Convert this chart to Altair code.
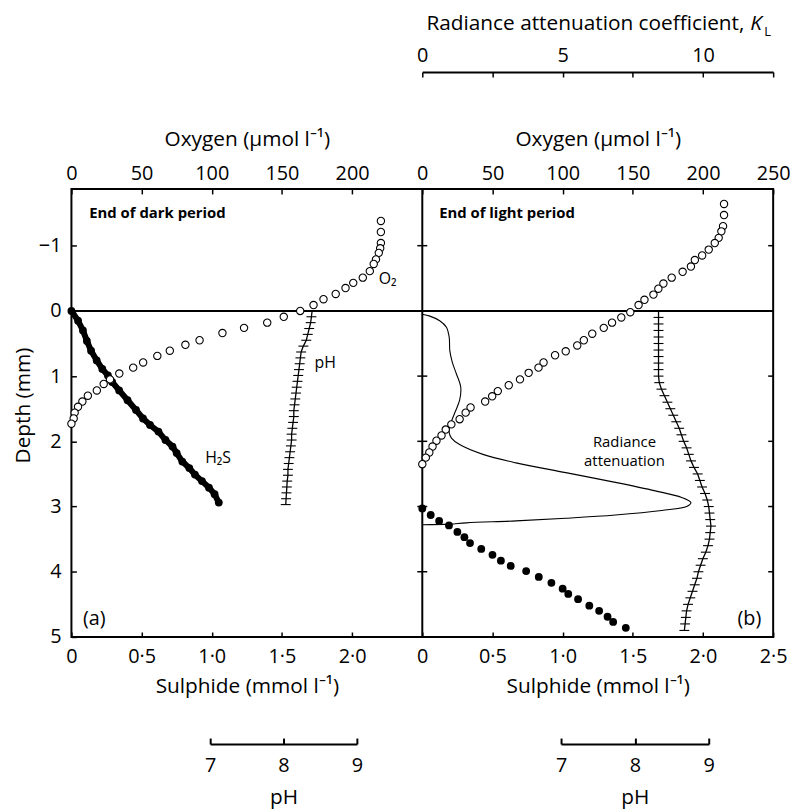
import altair as alt
import pandas as pd

# ---------------- axis ticks / labels ----------------
DEPTH_TICKS = [-1, 0, 1, 2, 3, 4, 5]
OXY_TICKS_A = [0, 50, 100, 150, 200]
OXY_TICKS_B = [0, 50, 100, 150, 200, 250]
SUL_TICKS_A = [0, 0.5, 1.0, 1.5, 2.0]
SUL_TICKS_B = [0, 0.5, 1.0, 1.5, 2.0, 2.5]
PH_TICKS = [7, 8, 9]
K_TICKS = [0, 2.5, 5, 7.5, 10, 12.5]

OXY_TITLE = "Oxygen (\u03bcmol l\u207b\u00b9)"
SUL_TITLE = "Sulphide (mmol l\u207b\u00b9)"
PH_TITLE = "pH"
DEPTH_TITLE = "Depth (mm)"
K_TITLE = ["Radiance attenuation coefficient,", "K", "L"]
NOTES = ["End of dark period", "End of light period", "O\u2082", "pH", "H\u2082S",
         "Radiance", "attenuation", "(a)", "(b)"]

# ---------------- panel (a): end of dark period ----------------
o2a_conc = [220.5, 220.5, 220.5, 220, 219, 217, 215.4, 212.6, 207.6, 200.8, 195.3, 188.3,
            179.6, 172.5, 163, 151.3, 139.5, 123, 107.6, 91.3, 81.2, 70.1, 61.2, 51.1,
            44, 34.1, 27.5, 23, 18.1, 11.7, 7.8, 4.7, 2.3, 1.6, 0]
o2a_depth = [-1.38, -1.21, -1.04, -0.96, -0.89, -0.79, -0.72, -0.61, -0.51, -0.43, -0.35,
             -0.26, -0.18, -0.09, 0.0, 0.09, 0.18, 0.26, 0.34, 0.45, 0.52, 0.61, 0.69,
             0.79, 0.87, 0.96, 1.05, 1.12, 1.22, 1.30, 1.39, 1.47, 1.56, 1.65, 1.73]

h2sa_conc = [0, 0.047, 0.082, 0.11, 0.14, 0.18, 0.22, 0.26, 0.29, 0.34, 0.40, 0.46, 0.51,
             0.56, 0.62, 0.67, 0.72, 0.75, 0.79, 0.84, 0.88, 0.93, 0.98, 1.02, 1.05]
h2sa_depth = [0, 0.15, 0.30, 0.46, 0.61, 0.76, 0.89, 0.99, 1.09, 1.22, 1.37, 1.52, 1.65,
              1.75, 1.85, 1.98, 2.08, 2.18, 2.31, 2.41, 2.51, 2.61, 2.71, 2.81, 2.94]

pha_depth = [0.00, 0.09, 0.18, 0.27, 0.36, 0.45, 0.54, 0.63, 0.72, 0.81, 0.90, 0.99, 1.08,
             1.17, 1.26, 1.35, 1.44, 1.53, 1.62, 1.71, 1.80, 1.89, 1.98, 2.07, 2.16, 2.25,
             2.34, 2.43, 2.52, 2.61, 2.70, 2.79, 2.88, 2.97]
pha_ph = [8.39, 8.38, 8.37, 8.35, 8.33, 8.31, 8.27, 8.24, 8.23, 8.22, 8.21, 8.20, 8.19,
          8.18, 8.17, 8.16, 8.15, 8.14, 8.14, 8.13, 8.12, 8.11, 8.11, 8.10, 8.09, 8.08,
          8.07, 8.06, 8.06, 8.05, 8.045, 8.04, 8.035, 8.03]

# ---------------- panel (b): end of light period ----------------
o2b_conc = [215, 215, 214.3, 213.1, 211.2, 208.4, 204.1, 199.4, 194.2, 191.4, 185.5, 177.7,
            171.8, 168.2, 164.7, 158.3, 154.1, 148.2, 141.8, 135.2, 129.3, 121.1, 115.1,
            110.4, 102.2, 94.6, 86.4, 82.8, 75.8, 69.6, 61.6, 53.8, 49.8, 44.8, 34.4, 30.9,
            26.6, 20.7, 16.7, 13.7, 10.1, 7.3, 5.0, 2.5, 0]
o2b_depth = [-1.64, -1.47, -1.30, -1.22, -1.12, -1.04, -0.94, -0.85, -0.78, -0.68, -0.60,
             -0.51, -0.42, -0.34, -0.25, -0.17, -0.09, 0.02, 0.10, 0.18, 0.26, 0.35, 0.45,
             0.53, 0.62, 0.68, 0.79, 0.87, 0.95, 1.05, 1.14, 1.23, 1.31, 1.39, 1.48, 1.56,
             1.66, 1.74, 1.82, 1.91, 1.99, 2.08, 2.17, 2.25, 2.35]

h2sb_conc = [0, 0.06, 0.12, 0.19, 0.25, 0.30, 0.34, 0.42, 0.50, 0.56, 0.63, 0.74, 0.83,
             0.92, 1.00, 1.04, 1.11, 1.19, 1.26, 1.32, 1.36, 1.45]
h2sb_depth = [3.03, 3.13, 3.22, 3.29, 3.39, 3.47, 3.56, 3.65, 3.74, 3.83, 3.91, 3.99, 4.08,
              4.17, 4.26, 4.34, 4.42, 4.52, 4.60, 4.69, 4.77, 4.86]

phb_depth = [0.0, 0.1, 0.2, 0.3, 0.4, 0.5, 0.6, 0.7, 0.8, 0.9, 1.0, 1.1, 1.2, 1.3, 1.4,
             1.5, 1.6, 1.7, 1.8, 1.9, 2.0, 2.1, 2.2, 2.3, 2.4, 2.5, 2.6, 2.7, 2.8, 2.9,
             3.0, 3.1, 3.2, 3.3, 3.4, 3.5, 3.6, 3.7, 3.8, 3.9, 4.0, 4.1, 4.2, 4.3, 4.4,
             4.5, 4.6, 4.7, 4.8, 4.9]
phb_ph = [8.32, 8.32, 8.32, 8.32, 8.32, 8.32, 8.32, 8.32, 8.32, 8.32, 8.32, 8.33, 8.36,
          8.40, 8.44, 8.48, 8.52, 8.56, 8.60, 8.63, 8.66, 8.70, 8.73, 8.76, 8.80, 8.85,
          8.88, 8.91, 8.95, 8.98, 9.00, 9.01, 9.02, 9.03, 9.02, 9.01, 8.99, 8.96, 8.92,
          8.89, 8.86, 8.84, 8.81, 8.78, 8.75, 8.72, 8.70, 8.69, 8.68, 8.67]

rad_k = [0, 0.27, 0.62, 0.86, 0.96, 0.98, 1.07, 1.21, 1.37, 1.33, 1.15, 0.98, 0.96, 1.04,
         1.33, 2.16, 3.34, 5.11, 6.88, 8.30, 9.24, 9.57, 9.42, 8.53, 6.88, 5.11, 3.34, 1.57,
         0.98, 0]
rad_depth = [0.05, 0.08, 0.15, 0.25, 0.41, 0.61, 0.79, 0.96, 1.17, 1.37, 1.57, 1.77, 1.87,
             1.95, 2.05, 2.20, 2.33, 2.48, 2.63, 2.76, 2.86, 2.94, 3.00, 3.06, 3.13, 3.18,
             3.22, 3.25, 3.27, 3.28]

# ---------------- layout constants ----------------
PW = 354          # width of one panel
W = 2 * PW
H = 452
FONT = "Open Sans"
LAB = 20
TIT = 21


def neg(v):
    return alt.ExprRef(expr=str(v))


COMMON = dict(labelFont=FONT, titleFont=FONT, labelFontSize=LAB, titleFontSize=TIT,
              labelColor="black", titleColor="black", tickColor="black",
              domainColor="black", titleFontWeight="normal", grid=False,
              labelOverlap=False)

yscale = alt.Scale(domain=[-1.87, 5], reverse=True, nice=False, zero=False)
yaxis = alt.Axis(orient="left", values=DEPTH_TICKS, tickSize=neg(-5), tickWidth=1.5,
                 labelPadding=15.5, title=DEPTH_TITLE, titleX=-42, titleY=218,
                 titleBaseline="alphabetic", domain=False, format="d", **COMMON)


def Y():
    return alt.Y("depth:Q", scale=yscale, axis=yaxis)


sul_expr = "datum.value == 0 ? '0' : replace(format(datum.value, '.1f'), '.', '\u00b7')"


def oxy_axis(vals):
    return alt.Axis(orient="top", values=vals, tickSize=neg(-5), tickWidth=1.5,
                    labelPadding=14.7, labelBaseline="alphabetic", labelFlush=False,
                    title=OXY_TITLE, titleY=-43.7, titleBaseline="alphabetic",
                    domain=False, format="d", **COMMON)


def sul_axis(vals):
    return alt.Axis(orient="bottom", values=vals, tickSize=neg(-5), tickWidth=1.5,
                    labelPadding=31, labelBaseline="alphabetic", labelFlush=False,
                    labelExpr=sul_expr, title=SUL_TITLE, titleY=56,
                    titleBaseline="alphabetic", domain=False, **COMMON)


def ph_axis():
    return alt.Axis(orient="bottom", offset=108, values=PH_TICKS, tickCount=10,
                    tickSize=neg(-6), tickWidth=2, labelPadding=34,
                    labelBaseline="alphabetic", labelFlush=False,
                    labelExpr="format(datum.value, 'd')", title=PH_TITLE, titleY=60,
                    titleBaseline="alphabetic", domain=True, domainWidth=2, **COMMON)


def df(**cols):
    return pd.DataFrame(cols)


layers = []

# zero-depth line
layers.append(alt.Chart(df(depth=[0])).mark_rule(color="black", strokeWidth=2).encode(
    y=Y(), x=alt.value(0), x2=alt.value(W)))
# divider between panels
layers.append(alt.Chart(df(depth=[0])).mark_rule(color="black", strokeWidth=2).encode(
    x=alt.value(PW), y=alt.value(0), y2=alt.value(H)))
# depth ticks on divider and right edge
layers.append(alt.Chart(df(depth=DEPTH_TICKS)).mark_rule(color="black", strokeWidth=1.5).encode(
    y=Y(), x=alt.value(PW - 5), x2=alt.value(PW + 5)))
layers.append(alt.Chart(df(depth=DEPTH_TICKS)).mark_rule(color="black", strokeWidth=1.5).encode(
    y=Y(), x=alt.value(W - 5), x2=alt.value(W)))

# ---- panel a ----
sul_a = alt.Scale(domain=[0, 2.5], range=[0, PW], nice=False, zero=False)
oxy_a = alt.Scale(domain=[0, 250], range=[0, PW], nice=False, zero=False)
ph_a = alt.Scale(domain=[7, 9], range=[140, 288], nice=False, zero=False)

h2sa = df(conc=h2sa_conc, depth=h2sa_depth)
layers.append(alt.Chart(h2sa).mark_line(color="black", strokeWidth=6).encode(
    x=alt.X("conc:Q", scale=sul_a, axis=sul_axis(SUL_TICKS_A)), y=Y(), order="depth:Q"))
layers.append(alt.Chart(h2sa).mark_circle(color="black", size=62, opacity=1).encode(
    x=alt.X("conc:Q", scale=sul_a, axis=None), y=Y()))

pha = df(ph=pha_ph, depth=pha_depth)
layers.append(alt.Chart(pha).mark_line(color="black", strokeWidth=1.3).encode(
    x=alt.X("ph:Q", scale=ph_a, axis=ph_axis()), y=Y(), order="depth:Q"))
layers.append(alt.Chart(pha).mark_point(shape="stroke", size=100, color="black",
                                         strokeWidth=1.1, opacity=1).encode(
    x=alt.X("ph:Q", scale=ph_a, axis=None), y=Y()))

o2a = df(conc=o2a_conc, depth=o2a_depth)
layers.append(alt.Chart(o2a).mark_point(shape="circle", filled=True, fill="white",
                                         stroke="black", strokeWidth=1.1, size=55,
                                         opacity=1).encode(
    x=alt.X("conc:Q", scale=oxy_a, axis=oxy_axis(OXY_TICKS_A)), y=Y()))

# ---- panel b ----
sul_b = alt.Scale(domain=[0, 2.5], range=[PW, W], nice=False, zero=False)
oxy_b = alt.Scale(domain=[0, 250], range=[PW, W], nice=False, zero=False)
ph_b = alt.Scale(domain=[7, 9], range=[PW + 140, PW + 289], nice=False, zero=False)
k_b = alt.Scale(domain=[0, 12.5], range=[PW, W], nice=False, zero=False)

rad = df(k=rad_k, depth=rad_depth, idx=list(range(len(rad_k))))
layers.append(alt.Chart(rad).mark_line(color="black", strokeWidth=1.1,
                                        interpolate="catmull-rom").encode(
    x=alt.X("k:Q", scale=k_b,
            axis=alt.Axis(orient="top", offset=118, values=K_TICKS, tickCount=20,
                          tickSize=neg(-5), tickWidth=1.5, labelPadding=15.7,
                          labelBaseline="alphabetic", labelFlush=False,
                          labelExpr="(datum.value % 5 == 0 && datum.value < 12) ? format(datum.value, 'd') : ''",
                          title=None, domain=True, domainWidth=2, **COMMON)),
    y=Y(), order="idx:Q"))

h2sb = df(conc=h2sb_conc, depth=h2sb_depth)
layers.append(alt.Chart(h2sb).mark_circle(color="black", size=62, opacity=1).encode(
    x=alt.X("conc:Q", scale=sul_b, axis=sul_axis(SUL_TICKS_B)), y=Y()))

phb = df(ph=phb_ph, depth=phb_depth)
layers.append(alt.Chart(phb).mark_line(color="black", strokeWidth=1.3).encode(
    x=alt.X("ph:Q", scale=ph_b, axis=ph_axis()), y=Y(), order="depth:Q"))
layers.append(alt.Chart(phb).mark_point(shape="stroke", size=100, color="black",
                                         strokeWidth=1.1, opacity=1).encode(
    x=alt.X("ph:Q", scale=ph_b, axis=None), y=Y()))

o2b = df(conc=o2b_conc, depth=o2b_depth)
layers.append(alt.Chart(o2b).mark_point(shape="circle", filled=True, fill="white",
                                         stroke="black", strokeWidth=1.1, size=55,
                                         opacity=1).encode(
    x=alt.X("conc:Q", scale=oxy_b, axis=oxy_axis(OXY_TICKS_B)), y=Y()))


# ---- annotations ----
def note(text, x, y, size=16, weight="normal", align="left", style="normal"):
    return alt.Chart(df(t=[text])).mark_text(
        font=FONT, fontSize=size, fontWeight=weight, align=align, baseline="middle",
        fontStyle=style, color="black").encode(
        text="t:N", x=alt.value(x), y=alt.value(y))


layers += [
    note(NOTES[0], 18, 24, size=15, weight="bold"),
    note(NOTES[1], 371, 24, size=15, weight="bold"),
    note(NOTES[2], 310, 91),
    note(NOTES[3], 256, 176, align="center"),
    note(NOTES[4], 148, 271, align="center"),
    note(NOTES[5], 558, 255, size=15, align="center"),
    note(NOTES[6], 558, 275, size=15, align="center"),
    note(NOTES[7], 23, 434, size=20, align="center"),
    note(NOTES[8], 684, 434, size=20, align="center"),
    note(K_TITLE[0], 679, -166, size=TIT, align="right"),
    note(K_TITLE[1], 685, -166, size=TIT, style="italic"),
    note(K_TITLE[2], 699, -158, size=13),
]

chart = alt.layer(*layers).resolve_scale(x="independent").properties(
    width=W, height=H,
    background="white",
    autosize=alt.AutoSizeParams(type="none"),
    padding={"left": 64, "top": 179, "right": 18, "bottom": 170},
).configure_view(stroke="black", strokeWidth=2).configure_axis(**COMMON)

chart.save("out.html", embed_options={"renderer": "svg", "actions": False})
